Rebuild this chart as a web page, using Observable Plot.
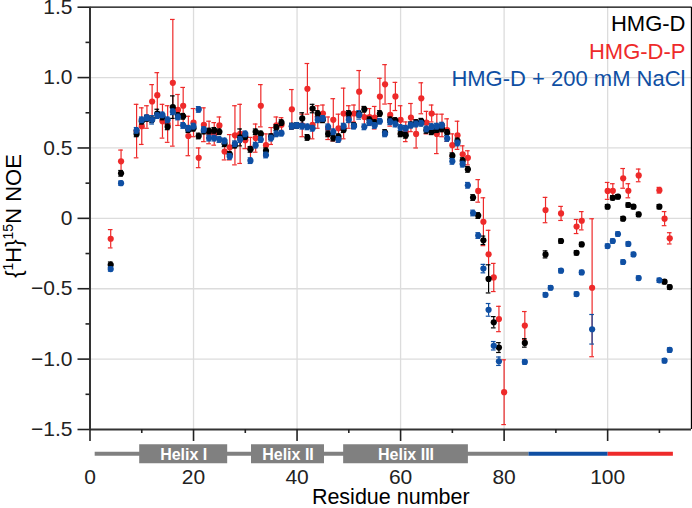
<!DOCTYPE html>
<html><head><meta charset="utf-8">
<script src="https://cdn.jsdelivr.net/npm/d3@7"></script>
<script src="https://cdn.jsdelivr.net/npm/@observablehq/plot@0.6"></script>
<style>
html,body{margin:0;padding:0;background:#fff;}
#chart svg{display:block;}
</style></head><body><div id="chart"></div>
<script>
const residues = [4,6,9,10,11,12,13,14,15,16,17,18,19,20,21,22,23,24,25,26,27,28,29,30,31,32,33,34,35,36,37,39,40,41,42,43,44,45,46,47,48,49,50,51,52,53,54,55,56,57,58,59,60,61,62,63,64,65,66,67,68,69,70,71,72,73,74,75,76,77,78,79,80,84,88,89,91,94,95,97,100,101,102,103,104,105,106,110,111,112];
// HMG-D (black)
const noeD = [-0.33,0.32,0.60,0.69,0.71,0.70,0.745,0.72,0.65,0.79,0.73,0.725,0.63,0.64,0.585,0.62,0.62,0.625,0.615,0.53,0.455,0.52,0.575,0.58,0.49,0.615,0.60,0.48,0.58,0.645,0.68,0.655,0.66,0.71,0.575,0.78,0.745,0.70,0.60,0.57,0.58,0.63,0.745,0.66,0.74,0.775,0.70,0.68,0.745,0.61,0.70,0.695,0.60,0.59,0.665,0.68,0.69,0.625,0.615,0.63,0.635,0.61,0.445,0.55,0.41,0.348,0.148,0.02,-0.156,-0.43,-0.738,-0.918,null,-0.885,-0.256,null,-0.161,-0.245,-0.185,null,0.083,0.146,0.154,-0.002,0.095,0.083,0.028,0.083,-0.45,-0.488];
const errD = [0.02,0.02,0.02,0.02,0.02,0.02,0.03,0.02,0.02,0.08,0.02,0.02,0.02,0.02,0.02,0.02,0.02,0.02,0.02,0.02,0.02,0.02,0.06,0.02,0.02,0.02,0.02,0.02,0.02,0.02,0.02,0.02,0.02,0.04,0.02,0.03,0.02,0.02,0.02,0.02,0.02,0.02,0.02,0.02,0.02,0.02,0.02,0.02,0.02,0.02,0.02,0.02,0.02,0.02,0.02,0.02,0.02,0.02,0.02,0.02,0.02,0.02,0.02,0.02,0.02,0.02,0.02,0.02,0.03,0.1,0.04,0.035,0,0.03,0.025,0,0.015,0.015,0.015,0,0.015,0.015,0.015,0.015,0.015,0.015,0.015,0.015,0.015,0.015];
// HMG-D-P (red)
const noeP = [-0.145,0.405,0.62,0.655,0.72,0.83,0.875,0.69,0.67,0.963,0.77,0.80,0.585,0.68,0.43,0.665,0.61,0.60,0.66,0.475,0.505,0.59,0.60,0.555,0.495,0.57,0.80,0.52,0.585,0.66,0.665,0.775,null,0.66,0.92,0.665,0.72,0.745,0.64,0.70,0.64,0.745,0.72,0.745,0.90,0.72,0.72,0.715,0.865,0.952,0.735,0.866,0.70,0.615,0.716,0.60,0.853,0.68,0.745,0.60,0.66,0.627,0.52,0.59,0.455,0.43,null,0.195,-0.024,-0.255,-0.42,-0.715,-1.235,-0.762,0.059,null,0.035,-0.058,-0.017,-0.493,0.195,0.196,null,0.284,0.196,null,0.305,0.20,-0.002,-0.142];
const errP = [0.065,0.08,0.19,0.13,0.08,0.12,0.16,0.12,0.13,0.45,0.11,0.13,0.14,0.10,0.07,0.12,0.08,0.08,0.06,0.06,0.09,0.21,0.21,0.06,0.08,0.10,0.15,0.08,0.06,0.06,0.05,0.14,0,0.08,0.18,0.10,0.08,0.06,0.08,0.15,0.10,0.18,0.08,0.06,0.15,0.07,0.06,0.08,0.13,0.14,0.08,0.10,0.10,0.07,0.10,0.10,0.11,0.08,0.06,0.14,0.08,0.08,0.08,0.10,0.06,0.05,0,0.08,0.17,0.17,0.10,0.09,0.23,0.10,0.09,0,0.05,0.05,0.065,0.49,0.06,0.05,0,0.07,0.05,0,0.045,0.02,0.05,0.04];
// HMG-D + 200 mM NaCl (blue)
const noeS = [-0.36,0.25,0.625,0.70,0.715,0.70,0.73,0.735,0.70,0.757,0.72,0.66,0.64,0.655,0.774,0.63,0.57,0.57,0.56,0.55,0.44,0.53,0.56,0.60,0.41,0.52,0.56,0.45,0.57,0.60,0.605,0.655,0.66,0.655,0.65,0.64,0.70,0.71,0.65,0.615,0.56,0.655,0.70,0.655,0.735,0.65,0.68,0.66,0.69,0.60,0.686,0.67,0.645,0.64,0.662,0.67,0.675,0.635,0.652,0.655,0.662,0.568,0.405,0.535,0.385,0.235,0.038,-0.122,-0.357,-0.65,-0.905,-1.015,null,-1.02,-0.543,-0.493,-0.372,-0.538,-0.384,-0.788,-0.197,-0.161,-0.111,-0.31,-0.182,-0.256,-0.424,-0.44,-1.011,-0.935];
const errS = [0.015,0.015,0.02,0.02,0.02,0.03,0.02,0.02,0.02,0.02,0.02,0.02,0.02,0.02,0.02,0.02,0.02,0.02,0.02,0.02,0.02,0.02,0.02,0.02,0.02,0.02,0.02,0.02,0.02,0.02,0.02,0.02,0.02,0.02,0.02,0.02,0.02,0.02,0.02,0.02,0.02,0.02,0.02,0.02,0.03,0.02,0.02,0.02,0.02,0.02,0.02,0.02,0.02,0.02,0.02,0.02,0.02,0.02,0.02,0.02,0.02,0.02,0.02,0.02,0.02,0.02,0.02,0.02,0.03,0.045,0.03,0.03,0,0.015,0.015,0.015,0.015,0.015,0.015,0.105,0.015,0.015,0.015,0.015,0.015,0.015,0.015,0.015,0.015,0.015];

const seriesNames = ["HMG-D", "HMG-D-P", "HMG-D + 200 mM NaCl"];
const seriesColors = ["#000000", "#ee2a2a", "#0f4fa3"];
const seriesValues = [noeD, noeP, noeS];
const seriesErrors = [errD, errP, errS];
const drawOrder = [1, 0, 2];

const helixNames = ["Helix I", "Helix II", "Helix III"];
const helixStart = [9.6, 31.2, 49.0];
const helixEnd = [26.6, 45.3, 73.1];
const tailStart = [1, 84.8, 100.1];
const tailEnd = [84.8, 100.1, 112.7];
const tailColors = ["#808080", "#0f4fa3", "#ee2a2a"];

const xMajorTicks = [0, 20, 40, 60, 80, 100];
const xMinorTicks = [10, 30, 50, 70, 90, 110];
const yMajorTicks = [-1.5, -1, -0.5, 0, 0.5, 1, 1.5];
const yMinorTicks = [-1.25, -0.75, -0.25, 0.25, 0.75, 1.25];
const xGrid = [20, 40, 60, 80, 100];
const yGrid = [-1, -0.5, 0, 0.5, 1];

const rowsFor = i => residues.map((r, k) => ({r, v: seriesValues[i][k], e: seriesErrors[i][k]})).filter(d => d.v != null);
const helices = helixNames.map((name, i) => ({name, start: helixStart[i], end: helixEnd[i]}));

const BAR_DY = 24.3;
const marks = [
  Plot.ruleX(xGrid, {stroke: "#dcdcdc", strokeWidth: 1.3}),
  Plot.ruleY(yGrid, {stroke: "#dcdcdc", strokeWidth: 1.3}),
];
tailColors.forEach((c, i) => {
  marks.push(Plot.ruleY([{a: tailStart[i], b: tailEnd[i]}], {y: -1.5, x1: "a", x2: "b", dy: BAR_DY, stroke: c, strokeWidth: 4}));
});
marks.push(Plot.ruleY(helices, {y: -1.5, x1: "start", x2: "end", dy: BAR_DY, stroke: "#808080", strokeWidth: 19}));
marks.push(Plot.text(helices, {x: d => (d.start + d.end) / 2, y: -1.5, dy: BAR_DY + 1.5, lineAnchor: "middle", text: "name", fill: "white", fontWeight: "bold", fontSize: 16}));

for (const i of drawOrder) {
  const rows = rowsFor(i);
  const c = seriesColors[i];
  const eb = rows.filter(d => d.e > 0);
  marks.push(Plot.ruleX(eb, {x: "r", y1: d => d.v - d.e, y2: d => d.v + d.e, stroke: c, strokeWidth: 1.2}));
  marks.push(Plot.ruleY(eb, {y: d => d.v + d.e, x1: d => d.r - 0.45, x2: d => d.r + 0.45, stroke: c, strokeWidth: 1.2}));
  marks.push(Plot.ruleY(eb, {y: d => d.v - d.e, x1: d => d.r - 0.45, x2: d => d.r + 0.45, stroke: c, strokeWidth: 1.2}));
  marks.push(Plot.dot(rows, {x: "r", y: "v", r: 3.1, fill: c, stroke: "none"}));
}

// frame
marks.push(Plot.ruleY([1.5], {stroke: "#000", strokeWidth: 1.3}));
marks.push(Plot.ruleX([116.2], {stroke: "#000", strokeWidth: 1.3}));
marks.push(Plot.ruleY([-1.5], {stroke: "#333", strokeWidth: 2}));
marks.push(Plot.ruleX([0], {stroke: "#333", strokeWidth: 2}));

// axes
const yFmt = d => d === 0 ? "0" : (d < 0 ? "\u2212" : "") + Math.abs(d).toFixed(1);
marks.push(Plot.axisX(xMajorTicks, {tickSize: 12, tickPadding: 28, fontSize: 21, color: "#222", strokeWidth: 1.6, tickFormat: d => String(d), label: null}));
marks.push(Plot.axisX(xMinorTicks, {tickSize: 4, tickFormat: () => "", color: "#222", strokeWidth: 1.6, label: null}));
marks.push(Plot.axisY(yMajorTicks, {tickSize: 12, tickPadding: 5.5, fontSize: 21, color: "#222", strokeWidth: 1.6, tickFormat: yFmt, label: null}));
marks.push(Plot.axisY(yMinorTicks, {tickSize: 4, tickFormat: () => "", color: "#222", strokeWidth: 1.6, label: null}));

marks.push(Plot.text(["Residue number"], {frameAnchor: "bottom", lineAnchor: "middle", dy: 67.5, fontSize: 21.5, fill: "#000"}));

// legend
seriesNames.forEach((name, i) => {
  marks.push(Plot.text([name], {frameAnchor: "top-right", lineAnchor: "middle", dx: -6, dy: 17 + i * 27.6, textAnchor: "end", fontSize: 22, fill: seriesColors[i]}));
});

const plot = Plot.plot({
  width: 692,
  height: 508,
  marginLeft: 89.5,
  marginRight: 1,
  marginTop: 6.7,
  marginBottom: 79,
  style: {fontFamily: "'Liberation Sans', Arial, Helvetica, sans-serif", background: "#fff", overflow: "visible"},
  x: {domain: [0, 116.2]},
  y: {domain: [-1.5, 1.5]},
  marks
});

// y-axis title with superscripts
const svg = d3.select(plot);
const t = svg.append("text")
  .attr("transform", "translate(20.5,216) rotate(-90)")
  .attr("text-anchor", "middle")
  .attr("font-size", 22)
  .attr("fill", "#000")
  .attr("font-family", "'Liberation Sans', Arial, Helvetica, sans-serif");
t.append("tspan").text("{");
t.append("tspan").attr("font-size", 14).attr("dy", -8).text("1");
t.append("tspan").attr("dy", 8).text("H}");
t.append("tspan").attr("font-size", 14).attr("dy", -8).text("15");
t.append("tspan").attr("dy", 8).text("N NOE");

document.getElementById("chart").appendChild(plot);
</script>
</body></html>
